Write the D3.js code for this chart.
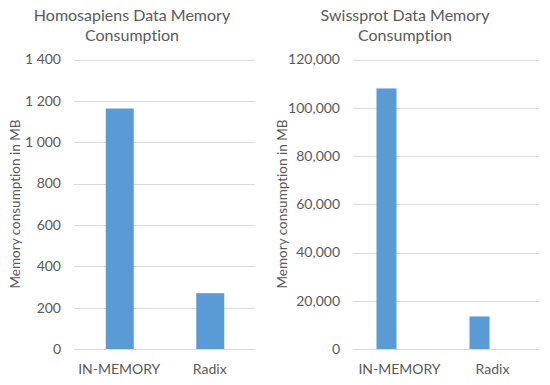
<!DOCTYPE html>
<html>
<head>
<meta charset="utf-8">
<script src="https://cdn.jsdelivr.net/npm/d3@7"></script>
<style>
  body { margin: 0; background: #fff; }
  svg { font-family: Lato, "Open Sans", sans-serif; font-variant-ligatures: none; }
</style>
</head>
<body>
<svg id="chart" width="550" height="385"></svg>
<script>
// ── Data ─────────────────────────────────────────────────────────
const categories = ['IN-MEMORY', 'Radix'];

const homoValues = [1163, 270];
const homoTicks = [0, 200, 400, 600, 800, 1000, 1200, 1400];

const swissValues = [108000, 13500];
const swissTicks = [0, 20000, 40000, 60000, 80000, 100000, 120000];

const BAR = '#5b9bd5';
const GRID = '#d9d9d9';
const TEXT = '#595959';

const svg = d3.select('#chart');

// ── One panel ────────────────────────────────────────────────────
function drawPanel(cfg) {
  const g = svg.append('g');
  const y = d3.scaleLinear()
    .domain([0, d3.max(cfg.ticks)])
    .range([349, 59.5]);
  const x = d3.scaleBand()
    .domain(categories)
    .range([cfg.x0, cfg.x1]);

  // gridlines
  g.selectAll('.grid')
    .data(cfg.ticks)
    .enter()
    .append('line')
    .attr('x1', cfg.x0)
    .attr('x2', cfg.x1)
    .attr('y1', d => Math.round(y(d)) + 0.5)
    .attr('y2', d => Math.round(y(d)) + 0.5)
    .attr('stroke', GRID)
    .attr('stroke-width', 1);

  // tick labels
  g.selectAll('.tick')
    .data(cfg.ticks)
    .enter()
    .append('text')
    .attr('x', cfg.labelX)
    .attr('y', d => y(d))
    .attr('dy', '0.35em')
    .attr('text-anchor', 'end')
    .attr('fill', TEXT)
    .attr('font-size', 14)
    .text(cfg.fmt);

  // bars (centred on band, shifted by cfg.barShift)
  g.selectAll('.bar')
    .data(cfg.values)
    .enter()
    .append('rect')
    .attr('x', (d, i) => x(categories[i]) + x.bandwidth() / 2 - cfg.barW / 2 + cfg.barShift)
    .attr('width', cfg.barW)
    .attr('y', d => y(d))
    .attr('height', d => y(0) - y(d))
    .attr('fill', BAR);

  // category labels
  g.selectAll('.cat')
    .data(categories)
    .enter()
    .append('text')
    .attr('x', d => x(d) + x.bandwidth() / 2)
    .attr('y', 374)
    .attr('text-anchor', 'middle')
    .attr('fill', TEXT)
    .attr('font-size', 14)
    .text(d => d);

  // y axis title
  g.append('text')
    .attr('transform', `translate(${cfg.axisTitleX},204) rotate(-90)`)
    .attr('text-anchor', 'middle')
    .attr('fill', TEXT)
    .attr('font-size', 13.5)
    .text('Memory consumption in MB');

  // chart title
  g.selectAll('.title')
    .data(cfg.title)
    .enter()
    .append('text')
    .attr('x', cfg.titleX)
    .attr('y', (d, i) => 21 + i * 19.5)
    .attr('text-anchor', 'middle')
    .attr('fill', TEXT)
    .attr('font-size', 16)
    .text(d => d);
}

const spaceFmt = d => d3.format(',')(d).replace(/,/g, ' ');

drawPanel({
  values: homoValues,
  ticks: homoTicks,
  fmt: spaceFmt,
  x0: 74, x1: 255,
  barW: 28, barShift: 0.5,
  labelX: 61,
  axisTitleX: 20,
  titleX: 132,
  title: ['Homosapiens Data Memory', 'Consumption']
});

drawPanel({
  values: swissValues,
  ticks: swissTicks,
  fmt: d3.format(','),
  x0: 353, x1: 539,
  barW: 20, barShift: -13,
  labelX: 340,
  axisTitleX: 287,
  titleX: 405,
  title: ['Swissprot Data Memory', 'Consumption']
});
</script>
</body>
</html>
